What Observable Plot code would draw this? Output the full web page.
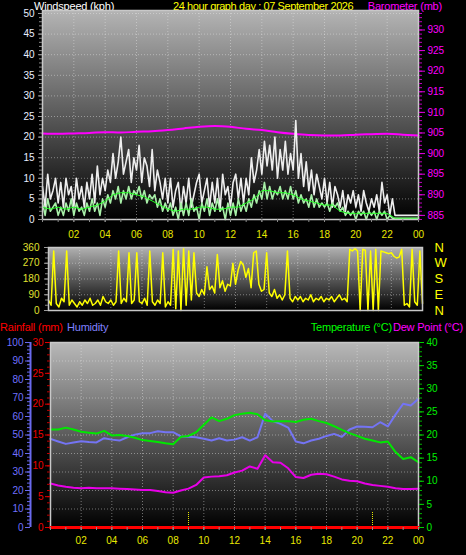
<!DOCTYPE html>
<html><head><meta charset="utf-8">
<script src="https://cdn.jsdelivr.net/npm/d3@7"></script>
<script src="https://cdn.jsdelivr.net/npm/@observablehq/plot@0.6"></script>
<style>
html,body{margin:0;padding:0;background:#000;}
#wrap{position:relative;width:466px;height:555px;overflow:hidden;background:#000;font-family:"Liberation Sans",Arial,sans-serif;}
.t{position:absolute;white-space:nowrap;font-size:11px;line-height:12px;letter-spacing:-0.2px;}
.p{position:absolute;left:0;}
.p svg{overflow:visible;display:block;}
</style></head><body>
<div id="wrap">
  <div class="t" style="left:34px;top:0px;color:#ffffff">Windspeed (kph)</div>
  <div class="t" style="left:173px;top:0px;color:#ffff00;letter-spacing:-0.4px">24 hour graph day : 07 September 2026</div>
  <div class="t" style="right:24px;top:0px;color:#ff00ff">Barometer (mb)</div>
  <div class="t" style="left:0px;top:321px;color:#ff0000">Rainfall (mm)</div>
  <div class="t" style="left:67px;top:321px;color:#8080ff">Humidity</div>
  <div class="t" style="right:74px;top:321px;color:#00ff00">Temperature (°C)</div>
  <div class="t" style="right:3px;top:321px;color:#ff00ff">Dew Point (°C)</div>
  <div class="p" id="top" style="top:0px"></div>
  <div class="p" id="mid" style="top:242px"></div>
  <div class="p" id="bot" style="top:330px"></div>
</div>
<script>
// ---------- DATA ----------
// 10-minute samples, hours 0..24
const gust = [
  8,3,11,5,7,10,  4,9,3,10,6,8,  3,10,5,8,3,9,  5,11,4,13,6,10,
  7,12,9,16,10,14,  20,11,14,17,9,15,  12,18,9,15,13,8,  17,7,12,9,5,10,
  4,10,3,7,9,2,  8,4,10,3,6,9,  11,4,7,10,3,9,  4,10,2,11,6,8,
  3,9,11,5,10,4,  10,6,15,9,12,17,  11,19,13,18,12,20,  10,17,12,19,11,16,
  12,24,10,16,8,14,  7,12,6,11,8,5,  10,4,9,3,8,6,  3,7,2,6,4,7,
  3,6,2,7,4,2,  5,3,6,2,9,4,  6,1,5,1,1,1,  1,1,1,1,1,1,  1
];
const windAvg = [
  4,1,5,2,3,4,  1,3,1,4,2,5,  1,4,2,3,1,4,  2,5,2,4,1,5,
  3,6,4,7,5,8,  4,7,5,8,5,7,  6,8,5,7,4,6,  5,6,3,5,2,4,
  2,4,1,3,0,4,  1,4,1,5,2,3,  0,4,2,5,1,4,  2,5,2,3,0,4,
  1,4,1,5,2,4,  2,5,3,6,4,7,  5,9,5,8,5,7,  6,8,5,7,5,8,
  5,7,4,6,4,5,  3,6,3,5,3,4,  3,4,2,4,3,4,  2,3,1,2,1,2,
  0,2,1,2,0,2,  1,2,0,2,1,2,  0,1,0.3,0.3,0.3,0.3,  0.3,0.3,0.3,0.3,0.3,0.3,  0.3
];
const direction = [
  60,30,340,40,20,70,  50,340,30,60,40,20,  50,30,60,40,70,30,  40,60,30,80,50,40,
  60,30,50,340,40,70,  50,330,40,60,330,50,  40,70,30,340,50,30,  60,40,330,20,50,30,
  350,10,340,0,355,30,  340,60,330,100,80,120,  90,250,120,140,100,320,  130,170,110,150,140,270,
  150,230,280,260,190,240,  130,330,340,150,110,120,  330,100,80,120,70,90,  60,90,340,70,50,80,
  60,80,50,70,60,90,  50,70,60,80,50,70,  60,80,50,70,90,60,  70,50,350,340,355,340,
  0,350,345,0,340,0,  350,0,340,335,330,325,  330,310,300,305,350,30,  40,20,350,50,30,340,  40
];
// 30-minute samples, hours 0..24
const windAvgSmooth = [3,2.5,3,2.5,3,2.5,3,3.5,4.5,6,6.5,6.5,6,5.5,4.5,3.5,2.5,2,2.5,2.5,3,3,2.5,2.5,3,3,4,5,7,7,6.5,6.5,6,5,4.5,4,3.5,3.5,2,1.5,1.5,1.5,1.5,1.5,1.5,0.3,0.3,0.3,0.3];
const temperature = [21.2,21.2,21.6,21.2,20.7,20.5,20.3,20.9,19.9,20.0,19.8,19.4,18.9,18.7,18.5,18.2,18.0,19.6,19.8,20.6,22.2,23.8,23.0,23.5,24.3,24.6,24.8,24.5,23.2,22.9,23.0,23.0,22.8,23.3,23.5,23.0,22.6,21.9,21.1,20.4,19.8,19.2,18.8,18.4,18.6,16.3,14.8,15.2,14.1];
const humidity = [47.9,46.5,45.2,46.0,46.6,46.2,46.0,48.3,47.5,47.0,48.8,50.2,51.0,51.0,52.0,51.5,51.5,49.2,49.0,48.8,48.0,47.0,48.2,47.0,47.5,48.8,47.0,48.8,61.5,57.5,56.0,54.0,46.5,45.5,47.0,48.0,49.5,50.6,49.0,53.0,54.6,54.4,54.2,56.9,54.6,61.0,66.9,66.0,69.6];
const dewPoint = [9.5,9.1,8.8,8.6,8.5,8.6,8.5,8.5,8.5,8.4,8.3,8.2,8.1,8.1,7.9,7.6,7.5,8.0,8.4,9.2,10.8,11.0,11.1,11.3,11.9,12.3,13.2,12.7,15.6,14.1,14.0,12.8,10.9,10.7,11.4,11.6,11.5,11.0,10.4,10.1,10.0,9.5,9.2,9.0,8.8,8.5,8.3,8.3,8.4];
// hourly samples, hours 0..24
const barometer = [904.9,904.8,904.9,905.0,905.2,905.1,905.3,905.4,905.7,906.1,906.5,906.7,906.5,906.0,905.7,905.2,904.8,904.5,904.4,904.4,904.6,904.7,904.8,904.6,904.4];
const rainfall = [0,0,0,0,0,0,0,0,0,0,0,0,0,0,0,0,0,0,0,0,0,0,0,0,0];
const sunMarks = [9, 21];
// ticks
const hourTicks = [2,4,6,8,10,12,14,16,18,20,22,24];
const windTicks = [0,5,10,15,20,25,30,35,40,45,50];
const baroTicks = [885,890,895,900,905,910,915,920,925,930];
const dirTicks = [0,90,180,270,360];
const dirLetters = ["N","E","S","W","N"];
const rainTicks = [0,5,10,15,20,25,30];
const humTicks = [0,10,20,30,40,50,60,70,80,90,100];
const tempTicks = [0,5,10,15,20,25,30,35,40];

// ---------- BUILD ----------
const FONT = "Liberation Sans, Arial, sans-serif";
const fmtH = d => String(d % 24).padStart(2, "0");
const baroBase = 884; // barometer axis 884..934 shares the 0..50 wind scale
const h10 = d3.range(gust.length).map(i => i / 6);
const h30 = d3.range(temperature.length).map(i => i / 2);
const h60 = d3.range(barometer.length);
const windRows = h10.map((h, i) => ({h, gust: gust[i], avg: windAvg[i], dir: direction[i]}));
const smoothRows = h30.map((h, i) => ({h, v: windAvgSmooth[i]}));
const baroRows = h60.map((h, i) => ({h, v: barometer[i] - baroBase}));
const thRows = h30.map((h, i) => ({h, t: temperature[i], d: dewPoint[i], hum: humidity[i] * 0.4}));
const rainRows = h60.map((h, i) => ({h, r: rainfall[i] * 40 / 30}));
const dotted = {stroke: "#e8e8e8", strokeOpacity: 0.45, strokeDasharray: "1,2"};
const style = {background: "transparent", fontFamily: FONT, fontSize: "10px", overflow: "visible"};
const minor = (data, o) => Plot.axisY(data, {tickSize: 3, fill: "none", label: null, ...o});
const minorX = (data, o) => Plot.axisX(data, {tickSize: 3, fill: "none", label: null, ...o});

function addGrad(svg, id, top) {
  const defs = d3.select(svg).insert("defs", ":first-child");
  const g = defs.append("linearGradient").attr("id", id)
    .attr("x1", 0).attr("y1", 0).attr("x2", 0).attr("y2", 1);
  g.append("stop").attr("offset", "0%").attr("stop-color", top);
  g.append("stop").attr("offset", "100%").attr("stop-color", "#000");
}

// Top: wind + barometer
const topPlot = Plot.plot({
  width: 466, height: 245,
  marginLeft: 42, marginRight: 48, marginTop: 13, marginBottom: 26,
  style,
  x: {domain: [0, 24], axis: null},
  y: {domain: [0, 50], axis: null},
  marks: [
    Plot.frame({fill: "url(#gTop)", insetTop: -3}),
    Plot.gridY(windTicks, dotted),
    Plot.gridX(hourTicks, dotted),
    Plot.line(baroRows, {x: "h", y: "v", stroke: "#ff00ff", strokeWidth: 2, curve: "monotone-x"}),
    Plot.line(windRows, {x: "h", y: "gust", stroke: "#eeeeee", strokeWidth: 1.6}),
    Plot.line(windRows, {x: "h", y: "avg", stroke: "#a8f0a8", strokeWidth: 1.6}),
    Plot.line(smoothRows, {x: "h", y: "v", stroke: "#22ff22", strokeWidth: 1}),
    Plot.frame({stroke: "#c8c8c8", strokeWidth: 1.5, insetTop: -3}),
    minor(d3.range(0, 51), {anchor: "left", stroke: "#8a8a8a"}),
    Plot.axisY(windTicks, {anchor: "left", label: null, tickSize: 4, tickPadding: 4, stroke: "#9a9a9a", fill: "#e8eeff", fontSize: 10}),
    minor(d3.range(0, 51), {anchor: "right", stroke: "#c000c0"}),
    Plot.axisY(baroTicks.map(b => b - baroBase), {anchor: "right", label: null, tickSize: 6, tickPadding: 3, stroke: "#e000e0", fill: "#ff00ff", fontSize: 10, tickFormat: d => d + baroBase}),
    minorX(d3.range(0, 25), {anchor: "bottom", stroke: "#8a8a8a"}),
    Plot.axisX(hourTicks, {anchor: "bottom", label: null, tickSize: 3, tickPadding: 8, stroke: "#8a8a8a", fill: "#e8e800", fontSize: 10, tickFormat: fmtH})
  ]
});
addGrad(topPlot, "gTop", "#b4b4b4");
document.getElementById("top").append(topPlot);

// Middle: wind direction
const midPlot = Plot.plot({
  width: 466, height: 78,
  marginLeft: 48, marginRight: 44, marginTop: 5, marginBottom: 10,
  style,
  x: {domain: [0, 24], axis: null},
  y: {domain: [0, 360], axis: null},
  marks: [
    Plot.frame({fill: "url(#gMid)"}),
    Plot.gridY(dirTicks, dotted),
    Plot.gridX(hourTicks, dotted),
    Plot.line(windRows, {x: "h", y: "dir", stroke: "#ffff00", strokeWidth: 1.5}),
    Plot.frame({stroke: "#c8c8c8", strokeWidth: 1.5}),
    minor(d3.range(0, 361, 30), {anchor: "left", stroke: "#8a8a8a"}),
    Plot.axisY(dirTicks, {anchor: "left", label: null, tickSize: 4, tickPadding: 5, stroke: "#9a9a9a", fill: "#e0e030", fontSize: 10}),
    Plot.axisY(dirTicks, {anchor: "right", label: null, tickSize: 0, tickPadding: 12, fill: "#ffff00", fontSize: 13,
      tickFormat: d => dirLetters[dirTicks.indexOf(d)]})
  ]
});
addGrad(midPlot, "gMid", "#b0b0b0");
document.getElementById("mid").append(midPlot);

// Bottom: temperature, dew point, humidity, rainfall
const botPlot = Plot.plot({
  width: 466, height: 225,
  marginLeft: 50, marginRight: 48, marginTop: 12, marginBottom: 28,
  style,
  x: {domain: [0, 24], axis: null},
  y: {domain: [0, 40], axis: null},
  marks: [
    Plot.frame({fill: "url(#gBot)"}),
    Plot.gridY(humTicks.map(h => h * 0.4), dotted),
    Plot.gridX(hourTicks, dotted),
    Plot.line(thRows, {x: "h", y: "hum", stroke: "#7474f4", strokeWidth: 2}),
    Plot.line(thRows, {x: "h", y: "t", stroke: "#00e800", strokeWidth: 2}),
    Plot.line(thRows, {x: "h", y: "d", stroke: "#e800e8", strokeWidth: 2}),
    Plot.ruleX(sunMarks, {y1: 0, y2: 3.3, stroke: "#e8e800", strokeDasharray: "1,1", strokeWidth: 1}),
    Plot.frame({stroke: "#c8c8c8", strokeWidth: 1.5}),
    Plot.line(rainRows, {x: "h", y: "r", stroke: "#ff0000", strokeWidth: 3}),
    // humidity axis
    Plot.ruleX([0], {y1: 0, y2: 40, dx: -20, stroke: "#6a6aee", strokeWidth: 2}),
    minor(d3.range(0, 101, 2).map(h => h * 0.4), {anchor: "left", dx: -20, stroke: "#6a6aee"}),
    Plot.axisY(humTicks.map(h => h * 0.4), {anchor: "left", label: null, dx: -20, tickSize: 5, tickPadding: 2, stroke: "#6a6aee", fill: "#7070ff", fontSize: 10,
      tickFormat: d => Math.round(d / 0.4)}),
    // rainfall axis
    minor(d3.range(0, 31).map(r => r * 40 / 30), {anchor: "left", stroke: "#c00000"}),
    Plot.axisY(rainTicks.map(r => r * 40 / 30), {anchor: "left", label: null, tickSize: 5, tickPadding: 2, stroke: "#e00000", fill: "#ee0000", fontSize: 10,
      tickFormat: d => Math.round(d * 30 / 40)}),
    // temperature axis
    minor(d3.range(0, 41), {anchor: "right", stroke: "#00b000"}),
    Plot.axisY(tempTicks, {anchor: "right", label: null, tickSize: 5, tickPadding: 3, stroke: "#00d000", fill: "#00ee00", fontSize: 10}),
    minorX(d3.range(0, 25), {anchor: "bottom", stroke: "#8a8a8a"}),
    Plot.axisX(hourTicks, {anchor: "bottom", label: null, tickSize: 3, tickPadding: 6, stroke: "#8a8a8a", fill: "#e8e800", fontSize: 10, tickFormat: fmtH})
  ]
});
addGrad(botPlot, "gBot", "#b8b8b8");
document.getElementById("bot").append(botPlot);
</script>
</body></html>
